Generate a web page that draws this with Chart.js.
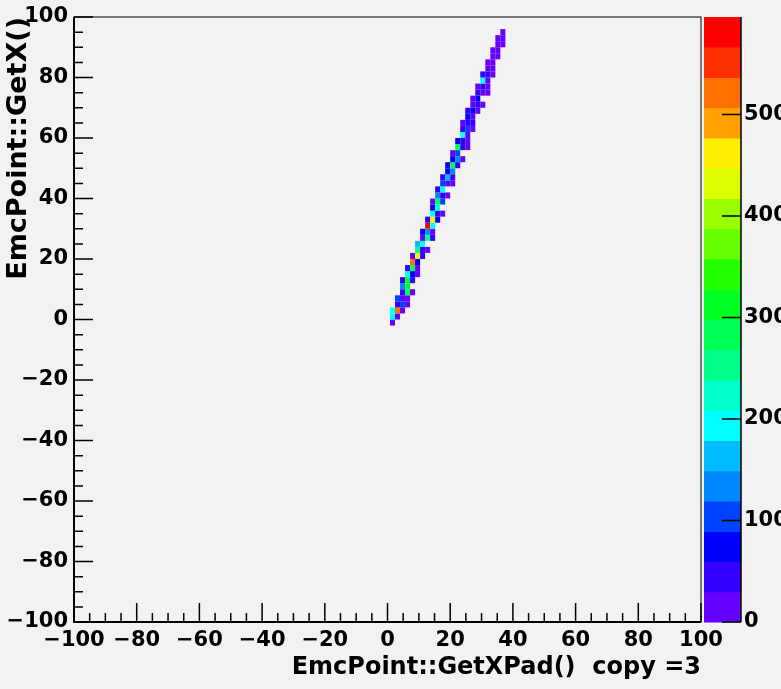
<!DOCTYPE html>
<html>
<head>
<meta charset="utf-8">
<title>EmcPoint GetX vs GetXPad</title>
<script src="https://cdn.jsdelivr.net/npm/chart.js@4.4.0/dist/chart.umd.min.js"></script>
<style>
  html, body { margin: 0; padding: 0; background: #f2f2f2; overflow: hidden; }
  #wrap { width: 781px; height: 689px; overflow: hidden; }
  canvas { display: block; }
</style>
</head>
<body>
<div id="wrap"><canvas id="emcChart" width="820" height="689"></canvas></div>
<script>
// axis ticks
const xTicks = [-100, -80, -60, -40, -20, 0, 20, 40, 60, 80, 100];
const yTicks = [-100, -80, -60, -40, -20, 0, 20, 40, 60, 80, 100];
const zTicks = [0, 100, 200, 300, 400, 500];
const zMax = 596;

// histogram bins: lower edge of each row (y), lower edge of first cell in row (x), counts left to right
const binW = 1.6;
const binH = 2;
const rowY = [-2, 0, 2, 4, 6, 8, 10, 12, 14, 16, 18, 20, 22, 24, 26, 28, 30, 32, 34, 36, 38, 40,
  42, 44, 46, 48, 50, 52, 54, 56, 58, 60, 62, 64, 66, 68, 70, 72, 74, 76, 78, 80, 82, 84, 86, 88,
  90, 92, 94];
const rowX = [0.8, 0.8, 0.8, 2.4, 2.4, 4.0, 4.0, 4.0, 5.6, 5.6, 7.2, 7.2, 8.8, 8.8, 10.4, 10.4,
  12.0, 12.0, 13.6, 13.6, 13.6, 15.2, 15.2, 16.8, 16.8, 18.4, 18.4, 20.0, 20.0, 21.6, 21.6, 23.2,
  23.2, 23.2, 24.8, 24.8, 26.4, 26.4, 28.0, 28.0, 29.6, 29.6, 31.2, 31.2, 32.8, 32.8, 34.4, 34.4, 36.0];
const rowCounts = [
  [20], [190, 10], [200, 530, 15], [40, 110, 20], [90, 20, 10], [30, 280, 25], [120, 300],
  [50, 310, 40], [200, 80, 10], [40, 270, 20], [530, 60], [20, 460, 30], [240, 30, 15],
  [170, 190], [10, 250, 40], [80, 130, 20], [580, 200], [30, 470, 60], [190, 40, 10],
  [60, 220], [20, 280, 90], [130, 50, 20], [30, 200], [100, 20, 10], [40, 160, 30],
  [80, 130], [60, 290, 40], [70, 130, 15], [20, 90], [270, 30, 20], [60, 40, 10], [190, 20],
  [50, 100, 15], [20, 40, 30], [60, 15], [30, 70, 20], [20, 30, 10], [10, 80], [40, 20, 15],
  [15, 30, 10], [190, 20], [30, 40, 10], [20, 15], [25, 10], [20, 15], [10, 25], [20, 10],
  [15, 20], [20]
];

// colour levels, lowest first
const palette = ['#6600ff', '#3300ff', '#0000ff', '#0044ff', '#0088ff', '#00bbff', '#00ffff',
  '#00ffcc', '#00ff88', '#00ff55', '#00ff22', '#22ff00', '#66ff00', '#99ff00', '#ddff00',
  '#ffee00', '#ffa000', '#ff7000', '#ff3000', '#ff0000'];

const cells = [];
rowY.forEach((y, i) => {
  rowCounts[i].forEach((n, j) => {
    cells.push({ x: rowX[i] + j * binW, y: y, n: n });
  });
});

const minus = v => (v < 0 ? '\u2212' + Math.abs(v) : String(v));

// draws the cells, the colour bar and ROOT style tick marks
const colzPlugin = {
  id: 'colz',
  beforeDatasetsDraw(chart) {
    const { ctx, chartArea: a, scales: { x, y, z } } = chart;
    const step = zMax / palette.length;

    ctx.save();
    ctx.beginPath();
    ctx.rect(a.left, a.top, a.right - a.left, a.bottom - a.top);
    ctx.clip();
    chart.data.datasets[0].data.forEach(c => {
      const idx = Math.min(palette.length - 1, Math.floor(c.n / step));
      const x0 = x.getPixelForValue(c.x);
      const x1 = x.getPixelForValue(c.x + binW);
      const y0 = y.getPixelForValue(c.y);
      const y1 = y.getPixelForValue(c.y + binH);
      ctx.fillStyle = palette[idx];
      ctx.fillRect(x0, y1, x1 - x0, y0 - y1);
    });
    ctx.restore();

    // colour bar
    const barL = z.left + 3;
    const barR = z.left + 40;
    palette.forEach((col, i) => {
      const top = z.getPixelForValue((i + 1) * step);
      const bot = z.getPixelForValue(i * step);
      ctx.fillStyle = col;
      ctx.fillRect(barL, top, barR - barL, bot - top + 0.5);
    });
  },
  afterDraw(chart) {
    const { ctx, chartArea: a, scales: { x, y, z } } = chart;
    ctx.save();
    ctx.strokeStyle = '#000';

    // frame
    ctx.lineWidth = 1;
    ctx.strokeRect(a.left, a.top, a.right - a.left, a.bottom - a.top);

    // axis lines
    ctx.lineWidth = 2;
    ctx.beginPath();
    ctx.moveTo(a.left, a.top);
    ctx.lineTo(a.left, a.bottom);
    ctx.lineTo(a.right, a.bottom);
    ctx.stroke();

    ctx.lineWidth = 1.5;
    ctx.beginPath();
    for (let v = -100; v <= 100; v += 5) {
      const len = v % 20 === 0 ? 19 : 9;
      const px = x.getPixelForValue(v);
      ctx.moveTo(px, a.bottom);
      ctx.lineTo(px, a.bottom - len);
      const py = y.getPixelForValue(v);
      ctx.moveTo(a.left, py);
      ctx.lineTo(a.left + len, py);
    }
    ctx.stroke();

    // colour bar axis
    const zx = z.left + 40;
    ctx.beginPath();
    ctx.moveTo(zx, a.top);
    ctx.lineTo(zx, a.bottom);
    zTicks.forEach(v => {
      const py = z.getPixelForValue(v);
      ctx.moveTo(zx - 19, py);
      ctx.lineTo(zx, py);
    });
    ctx.stroke();
    ctx.restore();
  }
};

Chart.defaults.font.family = "'DejaVu Sans', sans-serif";
Chart.defaults.font.weight = 'bold';
Chart.defaults.color = '#000';

const ctx = document.getElementById('emcChart');
new Chart(ctx, {
  type: 'scatter',
  data: {
    datasets: [{
      label: 'copy =3',
      data: cells,
      pointRadius: 0,
      showLine: false
    }]
  },
  options: {
    responsive: false,
    animation: false,
    layout: { padding: { top: 17, left: 0, right: 0, bottom: 0 }, autoPadding: false },
    plugins: {
      legend: { display: false },
      tooltip: { enabled: false }
    },
    scales: {
      x: {
        type: 'linear',
        position: 'bottom',
        min: -100,
        max: 100,
        afterBuildTicks: s => { s.ticks = xTicks.map(v => ({ value: v })); },
        afterFit: s => { s.height = 67; },
        grid: { display: false, drawTicks: false },
        border: { display: false },
        ticks: { padding: 6, font: { size: 21 }, maxRotation: 0, autoSkip: false, callback: minus },
        title: {
          display: true,
          text: 'EmcPoint::GetXPad()  copy =3',
          align: 'end',
          font: { size: 24 },
          padding: { top: 0, bottom: 7 }
        }
      },
      y: {
        type: 'linear',
        position: 'left',
        min: -100,
        max: 100,
        afterBuildTicks: s => { s.ticks = yTicks.map(v => ({ value: v })); },
        afterFit: s => { s.width = 74; },
        grid: { display: false, drawTicks: true, tickLength: 4 },
        border: { display: false },
        ticks: { padding: 2, font: { size: 21 }, autoSkip: false, callback: minus },
        title: {
          display: true,
          text: 'EmcPoint::GetX()',
          align: 'end',
          font: { size: 27 },
          padding: { top: 3, bottom: 0 }
        }
      },
      z: {
        type: 'linear',
        axis: 'y',
        position: 'right',
        min: 0,
        max: zMax,
        afterBuildTicks: s => { s.ticks = zTicks.map(v => ({ value: v })); },
        afterFit: s => { s.width = 119; },
        grid: { display: false, drawTicks: true, tickLength: 40 },
        border: { display: false },
        ticks: { padding: 3, font: { size: 21 }, autoSkip: false }
      }
    }
  },
  plugins: [colzPlugin]
});
</script>
</body>
</html>
